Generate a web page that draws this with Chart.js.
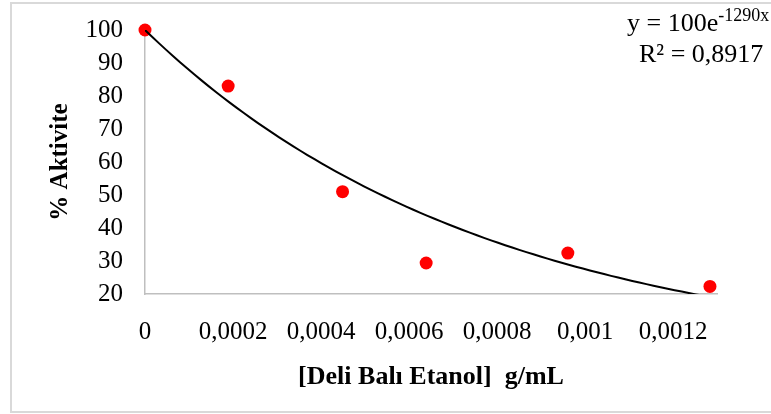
<!DOCTYPE html>
<html>
<head>
<meta charset="utf-8">
<script src="https://cdn.jsdelivr.net/npm/chart.js@4.4.1/dist/chart.umd.min.js"></script>
<style>
  body { margin: 0; background: #fff; }
  canvas { display: block; }
</style>
</head>
<body>
<canvas id="myChart" width="771" height="414"></canvas>
<script>
// measured points
const concentration = [0, 0.000189, 0.000449, 0.000639, 0.000961, 0.001284]
const activity = [100, 83.0, 51.0, 29.4, 32.4, 22.3]

// Excel exponential trendline: y = 100e^(-1290x)
const trendA = 100
const trendB = -1290

const xTicks = [0, 0.0002, 0.0004, 0.0006, 0.0008, 0.001, 0.0012]
const xTickLabels = ['0', '0,0002', '0,0004', '0,0006', '0,0008', '0,001', '0,0012']
const yTicks = [20, 30, 40, 50, 60, 70, 80, 90, 100]

const serif = "'Liberation Serif', 'Times New Roman', serif"

const trendPts = []
const steps = 80
const xEnd = concentration[concentration.length - 1]
for (let i = 0; i <= steps; i++) {
    const x = xEnd * i / steps
    trendPts.push({ x: x, y: trendA * Math.exp(trendB * x) })
}

const frame = {
    id: 'frame',
    beforeDraw(chart) {
        const c = chart.ctx
        c.save()
        c.fillStyle = '#fff'
        c.fillRect(0, 0, chart.width, chart.height)
        c.strokeStyle = '#d9d9d9'
        c.lineWidth = 2
        c.strokeRect(11, 3, 800, 409)
        c.restore()
    },
    afterDraw(chart) {
        const c = chart.ctx
        c.save()
        c.fillStyle = '#000'
        c.textBaseline = 'alphabetic'
        c.font = '26px ' + serif
        c.fillText('y = 100e', 627, 31)
        const w = c.measureText('y = 100e').width
        c.font = '18px ' + serif
        c.fillText('-1290x', 627 + w, 21)
        c.font = '26px ' + serif
        c.fillText('R² = 0,8917', 639, 62)
        c.restore()
    }
}

new Chart(document.getElementById('myChart'), {
    type: 'scatter',
    data: {
        datasets: [
            {
                label: 'trend',
                data: trendPts,
                showLine: true,
                borderColor: '#000',
                borderWidth: 2,
                pointRadius: 0,
                tension: 0,
            },
            {
                label: '% Aktivite',
                data: concentration.map((x, i) => ({ x: x, y: activity[i] })),
                backgroundColor: '#ff0000',
                borderColor: '#ff0000',
                borderWidth: 0,
                pointRadius: 6.5,
                clip: false,
            },
        ],
    },
    options: {
        responsive: false,
        animation: false,
        layout: { padding: { top: 30, right: 54, left: 0, bottom: 0 } },
        plugins: {
            legend: { display: false },
            tooltip: { enabled: false },
        },
        scales: {
            x: {
                type: 'linear',
                min: 0,
                max: 0.0013,
                afterBuildTicks: (s) => { s.ticks = xTicks.map(v => ({ value: v })) },
                afterFit: (s) => { s.height = 120; s.paddingLeft = 0; s.paddingRight = 0 },
                grid: { display: true, color: 'rgba(0,0,0,0)', drawTicks: false },
                border: { display: true, color: '#bfbfbf', width: 1.5 },
                ticks: {
                    autoSkip: false,
                    maxRotation: 0,
                    padding: 23,
                    color: '#000',
                    font: { family: serif, size: 25 },
                    callback: (v, i) => xTickLabels[i],
                },
                title: {
                    display: true,
                    text: '[Deli Balı Etanol]  g/mL',
                    color: '#000',
                    font: { family: serif, size: 26, weight: 'bold' },
                    padding: { top: 0, bottom: 21 },
                },
            },
            y: {
                min: 20,
                max: 100,
                afterBuildTicks: (s) => { s.ticks = yTicks.map(v => ({ value: v })) },
                afterFit: (s) => { s.width = 145; s.paddingTop = 0; s.paddingBottom = 0 },
                grid: { display: true, color: 'rgba(0,0,0,0)', drawTicks: false },
                border: { display: true, color: '#bfbfbf', width: 1.5 },
                ticks: {
                    autoSkip: false,
                    padding: 22,
                    color: '#000',
                    font: { family: serif, size: 25 },
                    callback: (v) => String(v),
                },
                title: {
                    display: true,
                    text: '% Aktivite',
                    color: '#000',
                    font: { family: serif, size: 25, weight: 'bold' },
                    padding: { top: 46, bottom: 0 },
                },
            },
        },
    },
    plugins: [frame],
})
</script>
</body>
</html>
